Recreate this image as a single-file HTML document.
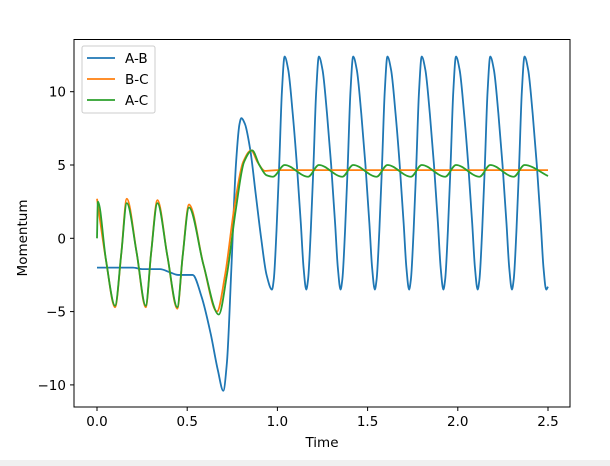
<!DOCTYPE html>
<html><head><meta charset="utf-8"><style>
html,body{margin:0;padding:0;background:#fff;}
svg{display:block;font-family:"DejaVu Sans","Liberation Sans",sans-serif;}
</style></head><body>
<svg id="chart" width="610" height="466" viewBox="0 0 610 466" xmlns="http://www.w3.org/2000/svg">
<rect x="0" y="0" width="610" height="466" fill="#fff"/>
<rect x="0" y="460" width="610" height="6" fill="#f0f0f0"/>
<g id="plot"></g>
<rect x="74" y="39.5" width="496" height="367.5" fill="none" stroke="#000" stroke-width="1"/>
<g id="axes"></g>
<text x="322" y="447" font-size="13.5" text-anchor="middle">Time</text>
<text x="27" y="238" font-size="13.5" text-anchor="middle" transform="rotate(-90 27 238)">Momentum</text>
<g>
<rect x="82" y="46" width="73" height="67" rx="2" fill="#fff" fill-opacity="0.8" stroke="#ccc"/>
<line x1="87" y1="58" x2="115" y2="58" stroke="#1f77b4" stroke-width="1.8"/>
<text x="125" y="63" font-size="13.5">A-B</text>
<line x1="87" y1="79" x2="115" y2="79" stroke="#ff7f0e" stroke-width="1.8"/>
<text x="125" y="84" font-size="13.5">B-C</text>
<line x1="87" y1="100" x2="115" y2="100" stroke="#2ca02c" stroke-width="1.8"/>
<text x="125" y="105" font-size="13.5">A-C</text>
</g>
</svg>
<script>
const xTicks = [0, 0.5, 1.0, 1.5, 2.0, 2.5];
const xTickLabels = ["0.0", "0.5", "1.0", "1.5", "2.0", "2.5"];
const yTicks = [-10, -5, 0, 5, 10];
const yTickLabels = ["\u221210", "\u22125", "0", "5", "10"];

const abTimes = [0,0.1,0.2,0.25,0.3,0.35,0.4,0.45,0.5,0.53,0.58,0.63,0.67,0.70,0.72,0.745,0.77,0.79,0.80,0.82,0.85,0.88,0.91,0.94,
 0.97,0.98,0.995,1.01,1.025,1.04,1.06,1.085,1.108,1.13,1.145,
 1.16,1.17,1.185,1.20,1.215,1.23,1.25,1.275,1.298,1.32,1.335,
 1.35,1.36,1.375,1.39,1.405,1.42,1.44,1.465,1.488,1.51,1.525,
 1.54,1.55,1.565,1.58,1.595,1.61,1.63,1.655,1.678,1.70,1.715,
 1.73,1.74,1.755,1.77,1.785,1.80,1.82,1.845,1.868,1.89,1.905,
 1.92,1.93,1.945,1.96,1.975,1.99,2.01,2.035,2.058,2.08,2.095,
 2.11,2.12,2.135,2.15,2.165,2.18,2.20,2.225,2.248,2.27,2.285,
 2.30,2.31,2.325,2.34,2.355,2.37,2.39,2.415,2.438,2.46,2.475,
 2.49,2.5];
const abValues = [-2,-2,-2,-2.1,-2.1,-2.1,-2.3,-2.5,-2.5,-2.5,-4,-6.5,-9,-10.4,-8.5,-2,5,7.8,8.2,7.8,6,3,0,-2.5,
 -3.5,-2.8,0.5,5,10,12.4,11.5,8.5,5,1,-2,
 -3.5,-2.8,0.5,5,10,12.4,11.5,8.5,5,1,-2,
 -3.5,-2.8,0.5,5,10,12.4,11.5,8.5,5,1,-2,
 -3.5,-2.8,0.5,5,10,12.4,11.5,8.5,5,1,-2,
 -3.5,-2.8,0.5,5,10,12.4,11.5,8.5,5,1,-2,
 -3.5,-2.8,0.5,5,10,12.4,11.5,8.5,5,1,-2,
 -3.5,-2.8,0.5,5,10,12.4,11.5,8.5,5,1,-2,
 -3.5,-2.8,0.5,5,10,12.4,11.5,8.5,5,1,-2,
 -3.5,-3.3];

const bcTimes = [0,0.05,0.1,0.135,0.165,0.22,0.27,0.30,0.335,0.39,0.445,0.475,0.51,0.59,0.665,0.71,0.76,0.81,0.855,0.89,0.93,1.0,1.5,2.0,2.5];
const bcValues = [2.7,-1.5,-4.7,-1,2.7,-1,-4.7,-1,2.6,-1.2,-4.8,-1.2,2.3,-1.8,-5.0,-2.5,2,5.2,6,5.2,4.6,4.65,4.65,4.65,4.65];

const acTimes = [0,0.005,0.05,0.1,0.135,0.165,0.22,0.27,0.30,0.335,0.39,0.445,0.475,0.51,0.59,0.675,0.72,0.77,0.815,0.86,0.90,0.94,0.975,
 1.04,1.17,1.23,1.36,1.42,1.55,1.61,1.74,1.80,1.93,1.99,2.12,2.18,2.31,2.37,2.5];
const acValues = [0,2.5,-1.5,-4.6,-1,2.4,-1,-4.6,-1,2.4,-1.2,-4.7,-1.2,2.1,-1.8,-5.2,-2.5,2,5.2,6,5,4.3,4.2,
 5.0,4.2,5.0,4.2,5.0,4.2,5.0,4.2,5.0,4.2,5.0,4.2,5.0,4.2,5.0,4.25];

const X0 = 97, XS = 180.4, Y0 = 238.3, YS = 14.66;
function sx(t){ return X0 + t*XS; }
function sy(v){ return Y0 - v*YS; }
const NS = "http://www.w3.org/2000/svg";

// monotone cubic (Fritsch-Carlson) through data points, rendered as Bezier
function smoothPath(ts, vs){
  const x = ts.map(sx), y = vs.map(sy), n = x.length;
  const d = [], m = new Array(n).fill(0);
  for(let i=0;i<n-1;i++){ d.push((y[i+1]-y[i])/Math.max(1e-9,x[i+1]-x[i])); }
  m[0]=d[0]; m[n-1]=d[n-2];
  for(let i=1;i<n-1;i++){
    if(d[i-1]*d[i]<=0) m[i]=0;
    else { const h0=x[i]-x[i-1], h1=x[i+1]-x[i];
      const w1=2*h1+h0, w2=h1+2*h0;
      m[i]=(w1+w2)/(w1/d[i-1]+w2/d[i]); }
  }
  let p = "M"+x[0].toFixed(2)+","+y[0].toFixed(2);
  for(let i=0;i<n-1;i++){
    const h=(x[i+1]-x[i])/3;
    p+=" C"+(x[i]+h).toFixed(2)+","+(y[i]+m[i]*h).toFixed(2)+" "+(x[i+1]-h).toFixed(2)+","+(y[i+1]-m[i+1]*h).toFixed(2)+" "+x[i+1].toFixed(2)+","+y[i+1].toFixed(2);
  }
  return p;
}

const plot = document.getElementById("plot");
function addSeries(ts, vs, color, name){
  const el = document.createElementNS(NS,"path");
  el.setAttribute("d", smoothPath(ts, vs));
  el.setAttribute("fill","none");
  el.setAttribute("stroke",color);
  el.setAttribute("stroke-width","1.8");
  el.setAttribute("stroke-linejoin","round");
  
  
  plot.appendChild(el);
}
addSeries(abTimes, abValues, "#1f77b4", "series-a-b");
addSeries(bcTimes, bcValues, "#ff7f0e", "series-b-c");
addSeries(acTimes, acValues, "#2ca02c", "series-a-c");

const axes = document.getElementById("axes");
xTicks.forEach((t,i)=>{
  const l = document.createElementNS(NS,"line");
  l.setAttribute("x1",sx(t)); l.setAttribute("x2",sx(t));
  l.setAttribute("y1",407); l.setAttribute("y2",411);
  l.setAttribute("stroke","#000");
  
  
  axes.appendChild(l);
  const tx = document.createElementNS(NS,"text");
  tx.setAttribute("x",sx(t)); tx.setAttribute("y",426);
  tx.setAttribute("font-size","13.5"); tx.setAttribute("text-anchor","middle");
  tx.textContent = xTickLabels[i];
  
  
  axes.appendChild(tx);
});
yTicks.forEach((v,i)=>{
  const l = document.createElementNS(NS,"line");
  l.setAttribute("x1",70); l.setAttribute("x2",74);
  l.setAttribute("y1",sy(v)); l.setAttribute("y2",sy(v));
  l.setAttribute("stroke","#000");
  
  
  axes.appendChild(l);
  const tx = document.createElementNS(NS,"text");
  tx.setAttribute("x",66); tx.setAttribute("y",sy(v)+5);
  tx.setAttribute("font-size","13.5"); tx.setAttribute("text-anchor","end");
  tx.textContent = yTickLabels[i];
  
  
  axes.appendChild(tx);
});
</script>
</body></html>
